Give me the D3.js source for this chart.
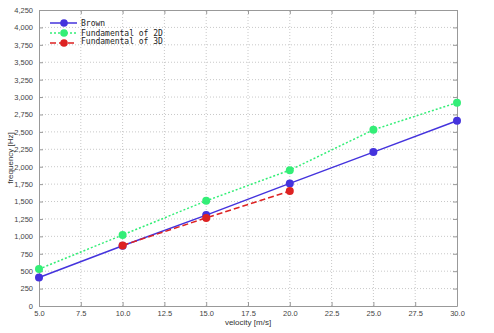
<!DOCTYPE html>
<html>
<head>
<meta charset="utf-8">
<script src="https://cdn.jsdelivr.net/npm/d3@7"></script>
<style>
  body { margin: 0; background: #fff; }
  svg { font-family: "Liberation Sans", sans-serif; }
</style>
</head>
<body>
<div id="chart"></div>
<script>
// chart values
let velocity = [5, 10, 15, 20, 25, 30];
let brown = [410, 865, 1305, 1760, 2210, 2660];
let fund2D = [530, 1020, 1510, 1950, 2530, 2920];
let velocity3D = [10, 15, 20];
let fund3D = [870, 1265, 1650];
let xTicks = [5, 7.5, 10, 12.5, 15, 17.5, 20, 22.5, 25, 27.5, 30];
let yTicks = d3.range(0, 4251, 250);

let width = 494, height = 333;
let margin = {top: 10, right: 37, bottom: 27, left: 39};

let series = [
    {name: "Brown", x: velocity, y: brown, color: "#4433dd", dash: null},
    {name: "Fundamental of 2D", x: velocity, y: fund2D, color: "#33ee77", dash: "2,2"},
    {name: "Fundamental of 3D", x: velocity3D, y: fund3D, color: "#dd2222", dash: "6,3"}
];

let svg = d3.select("#chart").append("svg")
    .attr("width", width)
    .attr("height", height);

let x = d3.scaleLinear().domain([5, 30]).range([margin.left, width - margin.right]);
let y = d3.scaleLinear().domain([0, 4250]).range([height - margin.bottom, margin.top]);

// grid
svg.append("g").selectAll("line.gx")
    .data(xTicks.slice(1, -1)).enter().append("line")
    .attr("x1", d => x(d)).attr("x2", d => x(d))
    .attr("y1", y(0)).attr("y2", y(4250))
    .attr("stroke", "#c8c8c8").attr("stroke-dasharray", "1,2");
svg.append("g").selectAll("line.gy")
    .data(yTicks.slice(1, -1)).enter().append("line")
    .attr("x1", x(5)).attr("x2", x(30))
    .attr("y1", d => y(d)).attr("y2", d => y(d))
    .attr("stroke", "#c8c8c8").attr("stroke-dasharray", "1,2");

// axes
let fmt = d3.format(",");
svg.append("g")
    .attr("transform", "translate(0," + y(0) + ")")
    .call(d3.axisBottom(x).tickValues(xTicks).tickFormat(d3.format(".1f")).tickSizeInner(-4).tickSizeOuter(0).tickPadding(5));
svg.append("g")
    .attr("transform", "translate(" + x(5) + ",0)")
    .call(d3.axisLeft(y).tickValues(yTicks).tickFormat(fmt).tickSizeInner(-4).tickSizeOuter(0).tickPadding(6));
svg.append("g")
    .attr("transform", "translate(" + x(30) + ",0)")
    .call(d3.axisRight(y).tickValues(yTicks).tickFormat("").tickSizeInner(-4).tickSizeOuter(0));
svg.append("g")
    .attr("transform", "translate(0," + y(4250) + ")")
    .call(d3.axisTop(x).tickValues(xTicks).tickFormat("").tickSizeInner(-4).tickSizeOuter(0));

svg.selectAll(".domain, .tick line").attr("stroke", "#999");
svg.selectAll(".tick text").attr("fill", "#444").attr("font-size", 7.5)
    .attr("font-family", "Liberation Sans, sans-serif");

// axis titles
svg.append("text")
    .attr("x", (x(5) + x(30)) / 2).attr("y", height - 8)
    .attr("text-anchor", "middle").attr("font-size", 8).attr("fill", "#333")
    .text("velocity [m/s]");
svg.append("text")
    .attr("transform", "translate(13," + (y(0) + y(4250)) / 2 + ") rotate(-90)")
    .attr("text-anchor", "middle").attr("font-size", 8).attr("fill", "#333")
    .text("frequency [Hz]");

// lines and markers
let line = d3.line().x(d => x(d[0])).y(d => y(d[1]));
series.forEach(function (s) {
    let pts = s.x.map((v, i) => [v, s.y[i]]);
    svg.append("path")
        .datum(pts)
        .attr("d", line)
        .attr("fill", "none")
        .attr("stroke", s.color)
        .attr("stroke-width", 1.5)
        .attr("stroke-dasharray", s.dash);
    svg.append("g").selectAll("circle")
        .data(pts).enter().append("circle")
        .attr("cx", d => x(d[0])).attr("cy", d => y(d[1]))
        .attr("r", 4)
        .attr("fill", s.color);
});

// legend
let legend = svg.append("g").attr("transform", "translate(50,23)");
let legendY = [0, 10, 20];
let textY = [3, 13, 21];
series.forEach(function (s, i) {
    let g = legend.append("g");
    g.append("line")
        .attr("x1", 0).attr("x2", 27)
        .attr("y1", legendY[i]).attr("y2", legendY[i])
        .attr("stroke", s.color).attr("stroke-width", 1.5)
        .attr("stroke-dasharray", s.dash);
    g.append("circle").attr("cx", 14).attr("cy", legendY[i]).attr("r", 3.8).attr("fill", s.color);
    g.append("text")
        .attr("x", 31).attr("y", textY[i])
        .attr("font-family", "DejaVu Sans Mono, monospace")
        .attr("font-size", 8).attr("fill", "#222")
        .text(s.name);
});
</script>
</body>
</html>
